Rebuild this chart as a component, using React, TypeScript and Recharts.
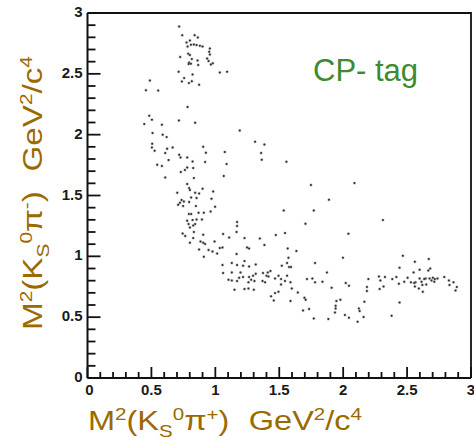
import { Label, Scatter, ScatterChart, XAxis, YAxis } from 'recharts';

// Dalitz plot, CP- tagged events: [M2(Ks pi+), M2(Ks pi-)] in GeV^2/c^4
const upperCluster: [number, number][] = [
  [0.717, 2.889], [0.741, 2.818], [0.838, 2.818], [0.863, 2.799], [0.801, 2.774], [0.775, 2.758],
  [0.809, 2.739], [0.832, 2.741], [0.853, 2.736], [0.879, 2.73], [0.9, 2.725], [0.783, 2.725],
  [0.957, 2.708], [0.952, 2.681], [0.957, 2.659], [0.788, 2.665], [0.801, 2.654], [0.725, 2.638],
  [0.816, 2.621], [0.861, 2.61], [0.936, 2.626], [0.947, 2.605], [0.98, 2.588], [0.965, 2.577],
  [0.795, 2.593], [0.809, 2.583], [0.791, 2.58], [0.866, 2.572], [1.035, 2.511], [1.092, 2.517],
  [0.713, 2.517], [0.822, 2.495], [0.756, 2.465], [0.738, 2.437], [0.793, 2.424], [0.816, 2.44],
  [0.873, 2.41], [0.488, 2.445], [0.457, 2.366], [0.553, 2.363], [0.783, 2.227], [0.483, 2.155],
  [0.504, 2.122], [0.444, 2.087], [0.582, 2.081], [0.715, 2.117], [0.842, 2.098], [1.191, 2.034],
  [0.509, 2.013], [0.588, 1.999], [0.619, 1.98],
];

const steepBand: [number, number][] = [
  [0.506, 1.925], [0.504, 1.895], [0.525, 1.868], [0.623, 1.884], [0.666, 1.895], [0.608, 1.849],
  [0.717, 1.835], [0.728, 1.813], [0.78, 1.813], [0.905, 1.901], [0.926, 1.851], [1.074, 1.857],
  [0.634, 1.791], [0.822, 1.78], [0.92, 1.775], [1.088, 1.758], [0.545, 1.753], [0.582, 1.742],
  [0.78, 1.73], [0.827, 1.726], [0.762, 1.709], [0.73, 1.693], [0.608, 1.648], [0.832, 1.643],
  [1.066, 1.66], [0.78, 1.594], [0.795, 1.561], [0.9, 1.555], [0.702, 1.523], [0.801, 1.545],
  [0.842, 1.523], [0.873, 1.517], [0.983, 1.533], [0.853, 1.479], [0.811, 1.484], [0.97, 1.473],
  [0.736, 1.463], [0.754, 1.451], [0.723, 1.44], [0.709, 1.424], [0.795, 1.446], [0.748, 1.413],
  [0.848, 1.413], [0.998, 1.408], [0.963, 1.369], [0.793, 1.348], [0.811, 1.348], [0.869, 1.358],
  [0.91, 1.358], [0.78, 1.293], [0.822, 1.298], [0.853, 1.303], [0.895, 1.303], [0.791, 1.265],
  [0.842, 1.265], [0.801, 1.237], [0.827, 1.254], [1.17, 1.282], [1.17, 1.249], [0.744, 1.188],
  [0.764, 1.167], [0.832, 1.2], [0.905, 1.177], [1.061, 1.183], [1.108, 1.155], [1.166, 1.2],
  [0.827, 1.15], [0.801, 1.112], [0.884, 1.122], [0.905, 1.112], [0.92, 1.101], [0.994, 1.122],
  [0.873, 1.057], [0.947, 1.052], [0.978, 1.04], [1.014, 1.024], [1.035, 1.068], [1.056, 1.073],
  [0.91, 0.997], [1.166, 1.019], [1.228, 1.15], [1.248, 1.073],
];

const lowerBand: [number, number][] = [
  [1.264, 1.065], [1.384, 1.093], [1.566, 1.065], [1.634, 1.044], [1.572, 0.988], [1.056, 0.929],
  [1.129, 0.945], [1.17, 0.929], [1.228, 0.961], [1.217, 0.923], [1.264, 0.917], [1.316, 0.933],
  [1.061, 0.863], [1.129, 0.868], [1.197, 0.868], [1.316, 0.857], [1.373, 0.863], [1.41, 0.868],
  [1.431, 0.879], [1.52, 0.923], [1.561, 0.945], [1.577, 0.912], [1.592, 0.912], [1.78, 0.945],
  [1.4, 0.841], [1.103, 0.808], [1.129, 0.802], [1.17, 0.797], [1.186, 0.824], [1.217, 0.83],
  [1.264, 0.83], [1.295, 0.841], [1.28, 0.808], [1.259, 0.786], [1.306, 0.797], [1.369, 0.797],
  [1.389, 0.786], [1.416, 0.835], [1.467, 0.818], [1.494, 0.841], [1.514, 0.813], [1.561, 0.841],
  [1.545, 0.797], [1.588, 0.786], [1.514, 0.769], [1.15, 0.726], [1.228, 0.731], [1.259, 0.736],
  [1.301, 0.726], [1.598, 0.736], [1.645, 0.703], [1.717, 0.813], [1.759, 0.818], [1.78, 0.786],
  [1.494, 0.709], [1.467, 0.698], [1.436, 0.671], [1.457, 0.638], [1.588, 0.633], [1.697, 0.66],
  [1.707, 0.643], [1.686, 0.555], [1.733, 0.567], [1.77, 0.49],
];

const sparseMiddle: [number, number][] = [
  [1.311, 1.942], [1.384, 1.919], [1.358, 1.849], [1.363, 1.794], [1.556, 1.777], [1.748, 1.586],
  [2.088, 1.602], [1.889, 1.465], [1.535, 1.377], [1.77, 1.377], [1.705, 1.268], [1.348, 1.147],
  [1.473, 1.175], [1.545, 1.191], [2.041, 1.186], [2.311, 1.298],
];

const rightBand: [number, number][] = [
  [1.998, 0.988], [1.873, 0.868], [1.838, 0.791], [1.91, 0.742], [2.02, 0.781], [2.045, 0.758],
  [2.197, 0.813], [2.186, 0.748], [2.186, 0.715], [2.28, 0.835], [2.291, 0.802], [2.327, 0.83],
  [2.316, 0.753], [2.285, 0.731], [2.384, 0.813], [2.416, 0.83], [2.436, 0.775], [2.467, 1.005],
  [2.441, 0.906], [2.561, 0.956], [2.478, 0.791], [2.504, 0.824], [2.53, 0.786], [2.551, 0.868],
  [2.598, 0.89], [2.566, 0.786], [2.598, 0.818], [2.613, 0.791], [2.645, 0.818], [2.666, 0.884],
  [2.561, 0.753], [2.592, 0.736], [2.623, 0.709], [2.65, 0.769], [1.947, 0.633], [1.978, 0.643],
  [1.941, 0.594], [1.941, 0.572], [1.936, 0.539], [2.166, 0.627], [2.123, 0.572], [2.129, 0.551],
  [2.014, 0.518], [2.045, 0.495], [2.16, 0.501], [2.113, 0.463], [1.884, 0.485], [2.441, 0.621],
  [2.379, 0.512], [2.67, 0.978], [2.681, 0.901], [2.556, 0.781], [2.619, 0.764], [2.634, 0.813],
  [2.676, 0.818], [2.691, 0.802], [2.702, 0.824], [2.717, 0.813], [2.713, 0.791], [2.738, 0.818],
  [2.791, 0.83], [2.827, 0.802], [2.863, 0.786], [2.832, 0.764], [2.889, 0.748], [2.879, 0.72],
];

const axisTicks = [
  0, 0.1, 0.2, 0.3, 0.4, 0.5, 0.6, 0.7, 0.8, 0.9, 1, 1.1, 1.2, 1.3, 1.4, 1.5,
  1.6, 1.7, 1.8, 1.9, 2, 2.1, 2.2, 2.3, 2.4, 2.5, 2.6, 2.7, 2.8, 2.9, 3,
];

const points = [...upperCluster, ...steepBand, ...lowerBand, ...sparseMiddle, ...rightBand].map(([x, y]) => ({ x, y }));

const FONT = '"Liberation Sans", Arial, Helvetica, sans-serif';
const TITLE_COLOR = '#9a6a00';
const INK = '#111111';

function isMajor(v: number) {
  return Math.abs(v * 2 - Math.round(v * 2)) < 1e-6;
}

function XTick(props: any) {
  const { x, y, payload } = props;
  const v = Number(payload.value);
  const major = isMajor(v);
  const len = major ? 11 : 6;
  return (
    <g>
      <path d={`M${x},${y}V${y - len}`} stroke={INK} strokeWidth={1.8} fill="none" />
      {major && (
        <text x={x + (v === 0 ? 2 : 0)} y={y + 17} textAnchor="middle" fontFamily={FONT} fontWeight="bold" fontSize={15} fill="#1a1a1a">
          {String(v)}
        </text>
      )}
    </g>
  );
}

function YTick(props: any) {
  const { x, y, payload } = props;
  const v = Number(payload.value);
  const major = isMajor(v);
  const len = major ? 13 : 8;
  return (
    <g>
      <path d={`M${x},${y}H${x + len}`} stroke={INK} strokeWidth={1.8} fill="none" />
      {major && (
        <text x={x - 5} y={y + 4} textAnchor="end" fontFamily={FONT} fontWeight="bold" fontSize={15} fill="#1a1a1a">
          {String(v)}
        </text>
      )}
    </g>
  );
}

function MassTitle({ x, y, sign, vertical }: { x: number; y: number; sign: string; vertical?: boolean }) {
  return (
    <text
      x={x}
      y={y}
      textAnchor="middle"
      fontFamily={FONT}
      fontSize={27}
      fill={TITLE_COLOR}
      textLength={274}
      lengthAdjust="spacingAndGlyphs"
      transform={vertical ? `rotate(-90 ${x} ${y})` : undefined}
    >
      M<tspan dy={-10} fontSize={17}>2</tspan>
      <tspan dy={10}>(K</tspan>
      <tspan dy={7} fontSize={17}>S</tspan>
      <tspan dy={-17} fontSize={17}>0</tspan>
      <tspan dy={10}>π</tspan>
      <tspan dy={-10} fontSize={17}>{sign}</tspan>
      <tspan dy={10}>)</tspan>
      <tspan dx={16}>GeV</tspan>
      <tspan dy={-10} fontSize={17}>2</tspan>
      <tspan dy={10}>/c</tspan>
      <tspan dy={-10} fontSize={17}>4</tspan>
    </text>
  );
}

// top/right frame of the plot box plus the tag text, drawn with the x axis title
function XTitleAndFrame() {
  return (
    <g>
      <path d="M87.5,13H471V378" stroke={INK} strokeWidth={1.8} fill="none" />
      <text x={313} y={81} fontFamily={FONT} fontSize={31} fill="#3e8a30">
        CP- tag
      </text>
      <MassTitle x={225} y={430} sign="+" />
    </g>
  );
}

function Dot({ cx, cy }: any) {
  return (
    <g>
      <circle cx={cx} cy={cy} r={1.7} fill="#9a9a9a" fillOpacity={0.5} />
      <circle cx={cx} cy={cy} r={1} fill="#2a2a2a" />
    </g>
  );
}

export default function App() {
  return (
    <div style={{ position: 'absolute', left: 0, top: 0, width: 474, height: 446, background: '#fff' }}>
      <ScatterChart width={474} height={446} margin={{ top: 13, right: 3, left: 0, bottom: 0 }}>
        <Scatter data={points} shape={<Dot />} isAnimationActive={false} />
        <XAxis
          type="number"
          dataKey="x"
          domain={[0, 3]}
          ticks={axisTicks}
          interval={0}
          height={68}
          axisLine={{ stroke: INK, strokeWidth: 2 }}
          tickLine={false}
          tickSize={0}
          tickMargin={0}
          tick={(p: any) => <XTick {...p} />}
          allowDataOverflow
        >
          <Label content={() => <XTitleAndFrame />} />
        </XAxis>
        <YAxis
          type="number"
          dataKey="y"
          domain={[0, 3]}
          ticks={axisTicks}
          interval={0}
          width={87.5}
          axisLine={{ stroke: INK, strokeWidth: 2 }}
          tickLine={false}
          tickSize={0}
          tickMargin={0}
          tick={(p: any) => <YTick {...p} />}
          allowDataOverflow
        >
          <Label content={() => <MassTitle x={42} y={193} sign="-" vertical />} />
        </YAxis>
      </ScatterChart>
    </div>
  );
}
